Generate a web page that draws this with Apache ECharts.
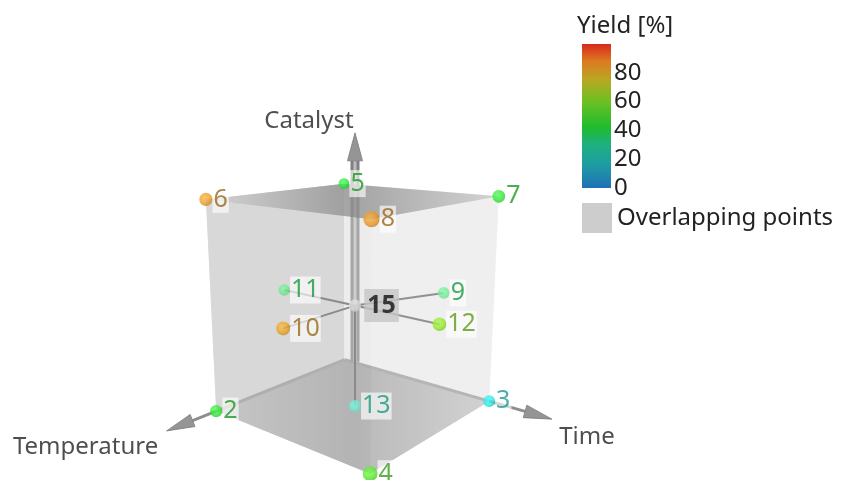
<!DOCTYPE html>
<html>
<head>
<meta charset="utf-8">
<script src="https://cdn.jsdelivr.net/npm/echarts@6/dist/echarts.min.js"></script>
<style>
  html, body { margin: 0; padding: 0; background: #fff; }
  #chart { width: 846px; height: 480px; }
</style>
</head>
<body>
<div id="chart"></div>
<script>
// design runs, coded levels (-1 .. 1)
const runLabels   = ['2', '3', '4', '5', '6', '7', '8', '9', '10', '11', '12', '13', '15'];
const temperature = [1, -1, 1, -1, 1, -1, 1, -1, 1, 0, 0, 0, 0];
const time        = [-1, 1, 1, -1, -1, 1, 1, 0.4, 0, -1, 1, 0, 0];
const catalyst    = [-1, -1, -1, 1, 1, 1, 1, 0, 0, 0, 0, -1, 0];
const yieldPct    = [44, 18, 52, 42, 83, 44, 84, 38, 82, 38, 62, 25, null]; // null = overlapping points
const centerRun = '15';
const axialRuns = ['9', '10', '11', '12', '13'];

// axes of the cube
const axisNames = ['Temperature', 'Time', 'Catalyst'];
const axisFrom  = [[-1, -1, -1], [-1, -1, -1], [0, 0, -0.55]];
const axisTo    = [[1.6, -1, -1], [-1, 1.7, -1], [0, 0, 1.57]];

// colour scale
const yieldTicks = [0, 20, 40, 60, 80, 100];
const stopValues = [0, 15, 30, 42, 60, 75, 88, 100];
const stopColors = ['#1f6fb4', '#1f9aa5', '#1fb081', '#1fbb2e', '#6cc023', '#b8a822', '#dc7a22', '#d8291e'];
const legendTitle = 'Yield [%]';
const overlapName = 'Overlapping points';

const FONT = 'Noto Sans';

// simple perspective camera looking at the cube corner
const CAM = { yaw: 0.09, pitch: 0.25, dist: 7.03, focal: 705, ySquash: 1.07, cx: 355, cy: 305.6 };
function project(t, s, c) {
  const u = (s - t) / Math.SQRT2, w = (t + s) / Math.SQRT2;
  const cyw = Math.cos(CAM.yaw), syw = Math.sin(CAM.yaw);
  const cp = Math.cos(CAM.pitch), sp = Math.sin(CAM.pitch);
  const u2 = u * cyw + w * syw;
  const w2 = w * cyw - u * syw;
  const depth = CAM.dist - w2 * cp - c * sp;
  const up = c * cp - w2 * sp;
  return [CAM.cx + CAM.focal * u2 / depth, CAM.cy - CAM.ySquash * CAM.focal * up / depth, depth];
}

// colour helpers
function hex(h) { return [1, 3, 5].map(i => parseInt(h.slice(i, i + 2), 16)); }
function rgb(c) { return 'rgb(' + c.map(v => Math.round(Math.max(0, Math.min(255, v)))).join(',') + ')'; }
function mix(a, b, t) { return a.map((v, i) => v + (b[i] - v) * t); }
function colorAt(v) {
  for (let i = 1; i < stopValues.length; i++) {
    if (v <= stopValues[i]) {
      const t = (v - stopValues[i - 1]) / (stopValues[i] - stopValues[i - 1]);
      return mix(hex(stopColors[i - 1]), hex(stopColors[i]), t);
    }
  }
  return hex(stopColors[stopColors.length - 1]);
}
function brighten(c) { const m = Math.max(...c); return c.map(v => v * 240 / m); }

const pts = runLabels.map((lab, i) => {
  const p = project(temperature[i], time[i], catalyst[i]);
  const yv = yieldPct[i];
  const base = yv == null ? [214, 214, 214] : brighten(colorAt(yv));
  return {
    lab, x: p[0], y: p[1], size: 88 / p[2], yv, base,
    front: temperature[i] === 1 || time[i] === 1 || catalyst[i] === 1
  };
});

function markerItem(p) {
  return {
    name: p.lab,
    value: [p.x, p.y],
    symbolSize: p.size,
    itemStyle: {
      color: new echarts.graphic.RadialGradient(0.4, 0.38, 0.7, [
        { offset: 0, color: rgb(mix(p.base, [255, 255, 255], 0.22)) },
        { offset: 0.5, color: rgb(p.base) },
        { offset: 1, color: rgb(p.base.map(v => v * 0.8)) }
      ])
    }
  };
}

// cube faces: fixed axis + level
const backFaces = [
  { axis: 2, level: -1, fill: new echarts.graphic.LinearGradient(0, 0, 1, 0, [
      { offset: 0, color: '#b2b2b2' }, { offset: 0.5, color: '#959595' }, { offset: 1, color: '#bdbdbd' }]) },
  { axis: 1, level: -1, fill: '#cdcdcd' },
  { axis: 0, level: -1, fill: '#ececec' }
];
const frontFaces = [
  { axis: 0, level: 1, fill: 'rgba(238,238,238,0.35)' },
  { axis: 1, level: 1, fill: 'rgba(245,245,245,0.38)' },
  { axis: 2, level: 1, fill: new echarts.graphic.LinearGradient(0, 0, 1, 0, [
      { offset: 0, color: 'rgba(212,212,212,0.8)' }, { offset: 0.5, color: 'rgba(145,145,145,0.8)' },
      { offset: 1, color: 'rgba(205,205,205,0.8)' }]) }
];
function facePoints(f, api) {
  const others = [0, 1, 2].filter(i => i !== f.axis);
  return [[-1, -1], [1, -1], [1, 1], [-1, 1]].map(([a, b]) => {
    const p = [0, 0, 0];
    p[f.axis] = f.level; p[others[0]] = a; p[others[1]] = b;
    const q = project(p[0], p[1], p[2]);
    return api.coord([q[0], q[1]]);
  });
}
function faceSeries(name, faces, z) {
  return {
    name, type: 'custom', coordinateSystem: 'cartesian2d', z, silent: true,
    data: faces.map((f, i) => [i, 0]),
    renderItem(params, api) {
      const f = faces[api.value(0)];
      return { type: 'polygon', shape: { points: facePoints(f, api) }, style: { fill: f.fill } };
    }
  };
}

const center = pts.find(p => p.lab === centerRun);
const spokes = pts.filter(p => axialRuns.includes(p.lab))
  .map(p => ({ coords: [[center.x, center.y], [p.x, p.y]] }));

const axisEnds = axisTo.map(a => project(a[0], a[1], a[2]));
const axisLabelOffset = [[-81, 16], [35, 18], [-46, -12]];

const chart = echarts.init(document.getElementById('chart'));
chart.setOption({
  animation: false,
  textStyle: { fontFamily: FONT },
  title: {
    text: legendTitle, left: 577, top: 14, padding: 0,
    textStyle: { fontSize: 24, fontWeight: 'normal', color: '#222', fontFamily: FONT }
  },
  legend: {
    data: [overlapName], left: 582, top: 203, padding: 0, icon: 'rect',
    itemWidth: 30, itemHeight: 30, selectedMode: false,
    textStyle: { fontSize: 24, color: '#222', fontFamily: FONT }
  },
  grid: [
    { left: 0, top: 0, width: 846, height: 480 },
    { left: 582, top: 44, width: 29, height: 144 }
  ],
  xAxis: [
    { type: 'value', min: 0, max: 846, show: false },
    { type: 'category', gridIndex: 1, data: ['yield'], show: false }
  ],
  yAxis: [
    { type: 'value', min: 0, max: 480, inverse: true, show: false },
    {
      type: 'value', gridIndex: 1, min: 0, max: 100, interval: 20, position: 'right',
      axisLine: { show: false }, axisTick: { show: false }, splitLine: { show: false },
      axisLabel: {
        fontSize: 24, color: '#222', margin: 3, fontFamily: FONT,
        formatter: v => (v === yieldTicks[yieldTicks.length - 1] ? '' : String(v))
      }
    }
  ],
  series: [
    faceSeries('backFaces', backFaces, 1),
    {
      name: 'axes', type: 'custom', coordinateSystem: 'cartesian2d', z: 2, silent: true,
      data: axisNames.map((n, i) => [i, 0]),
      renderItem(params, api) {
        const i = api.value(0);
        const s = project(...axisFrom[i]), e = axisEnds[i];
        const a = api.coord([s[0], s[1]]), b = api.coord([e[0], e[1]]);
        const dx = b[0] - a[0], dy = b[1] - a[1], len = Math.hypot(dx, dy);
        const ux = dx / len, uy = dy / len;
        const L = 28, W = i === 2 ? 7.5 : 6.5;
        const base = [b[0] - ux * L, b[1] - uy * L];
        const children = [
          { type: 'line', shape: { x1: a[0], y1: a[1], x2: base[0], y2: base[1] },
            style: { stroke: i === 2 ? '#808080' : '#8e8e8e', lineWidth: i === 2 ? 9 : 3 } }
        ];
        if (i === 2) {
          children.push({ type: 'line', shape: { x1: a[0], y1: a[1], x2: base[0], y2: base[1] },
            style: { stroke: '#bdbdbd', lineWidth: 3 } });
        }
        children.push({
          type: 'polygon',
          shape: { points: [b, [base[0] - uy * W, base[1] + ux * W], [base[0] + uy * W, base[1] - ux * W]] },
          style: { fill: '#959595', stroke: '#7a7a7a', lineWidth: 0.8 }
        });
        return { type: 'group', children };
      }
    },
    {
      name: 'spokes', type: 'lines', coordinateSystem: 'cartesian2d', z: 3, silent: true,
      lineStyle: { color: '#555', width: 2, opacity: 1 },
      data: spokes
    },
    {
      name: 'backPoints', type: 'scatter', z: 4, silent: true,
      data: pts.filter(p => !p.front && p.yv != null).map(markerItem)
    },
    {
      name: overlapName, type: 'scatter', z: 4, silent: true,
      itemStyle: { color: '#c0c0c0' },
      data: pts.filter(p => p.yv == null).map(markerItem)
    },
    faceSeries('frontFaces', frontFaces, 5),
    {
      name: 'frontPoints', type: 'scatter', z: 6, silent: true,
      data: pts.filter(p => p.front && p.yv != null).map(markerItem)
    },
    {
      name: 'runLabels', type: 'scatter', z: 8, silent: true,
      itemStyle: { color: 'rgba(0,0,0,0)' },
      label: {
        show: true, position: 'right', distance: 0, formatter: '{b}',
        fontSize: 25, fontFamily: FONT, lineHeight: 27,
        backgroundColor: 'rgba(255,255,255,0.8)', padding: [0, 1]
      },
      data: pts.map(p => ({
        name: p.lab, value: [p.x, p.y], symbolSize: p.size,
        label: p.yv == null
          ? { fontWeight: 'bold', color: '#111', backgroundColor: '#c6c6c6', padding: [3, 3, 3, 3], distance: 3 }
          : { color: rgb(p.base.map(v => v * 0.64)) }
      }))
    },
    {
      name: 'axisNames', type: 'scatter', z: 8, silent: true,
      itemStyle: { color: 'rgba(0,0,0,0)' }, symbolSize: 1,
      label: { show: true, position: 'inside', formatter: '{b}', fontSize: 24, color: '#222', fontFamily: FONT },
      data: axisNames.map((n, i) => ({
        name: n, value: [axisEnds[i][0], axisEnds[i][1]], label: { offset: axisLabelOffset[i] }
      }))
    },
    {
      name: 'colorbar', type: 'bar', xAxisIndex: 1, yAxisIndex: 1, silent: true, barWidth: 29,
      itemStyle: {
        color: new echarts.graphic.LinearGradient(0, 1, 0, 0,
          stopValues.map((v, i) => ({ offset: v / 100, color: stopColors[i] })))
      },
      data: [yieldTicks[yieldTicks.length - 1]]
    }
  ]
});
</script>
</body>
</html>
